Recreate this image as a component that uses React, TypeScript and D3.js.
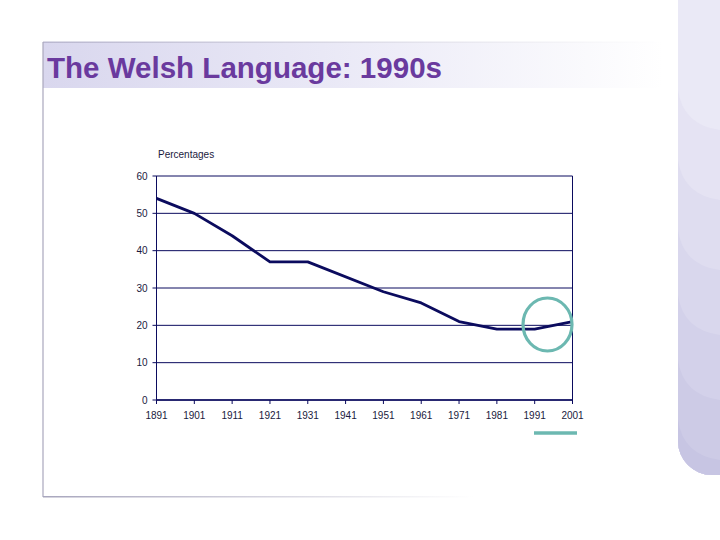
import React from "react";
import * as d3 from "d3";

const years = [1891, 1901, 1911, 1921, 1931, 1951, 1961, 1971, 1981, 1991, 2001];
const percentages = [54, 50, 44, 37, 37, 29, 26, 21, 19, 19, 21];
const xTicks = [1891, 1901, 1911, 1921, 1931, 1941, 1951, 1961, 1971, 1981, 1991, 2001];
const yTicks = [0, 10, 20, 30, 40, 50, 60];
const title = "The Welsh Language: 1990s";
const yLabel = "Percentages";

export default function App() {
  const W = 720, H = 540;
  const x = d3.scaleLinear().domain([1891, 2001]).range([156.5, 572.5]);
  const y = d3.scaleLinear().domain([0, 60]).range([400, 176]);
  const line = d3.line<number>().x((_, i) => x(years[i])).y((d) => y(d));
  const navy = "#0b0b5e";
  const bandColors = ["#eae9f6", "#e5e3f3", "#dfddf0", "#d9d7ed", "#d3d1ea", "#cdcbe6", "#c7c5e3"];
  const bandTops = [0, 90, 160, 230, 295, 360, 420];
  const panelX = 678, panelBottom = 475, r = 34;
  return (
    <svg width={W} height={H} style={{ position: "absolute", left: 0, top: 0, background: "#fff" }}>
      <defs>
        <linearGradient id="titleGrad" x1="0" x2="1" y1="0" y2="0">
          <stop offset="0" stopColor="#d9d7ee" />
          <stop offset="0.45" stopColor="#e9e8f6" />
          <stop offset="1" stopColor="#ffffff" />
        </linearGradient>
        <linearGradient id="topLine" x1="0" x2="1">
          <stop offset="0" stopColor="#b9b7d0" />
          <stop offset="1" stopColor="#ffffff" />
        </linearGradient>
        <linearGradient id="botLine" x1="0" x2="1">
          <stop offset="0" stopColor="#a8a6bd" />
          <stop offset="1" stopColor="#ffffff" />
        </linearGradient>
        <clipPath id="panelClip">
          <path d={`M${panelX},0 H${W} V${panelBottom} H${panelX + r} A${r},${r} 0 0 1 ${panelX},${panelBottom - r} Z`} />
        </clipPath>
      </defs>

      {/* right decorative panel */}
      <g clipPath="url(#panelClip)">
        <rect x={panelX} y={0} width={W - panelX} height={panelBottom} fill={bandColors[0]} />
        {bandTops.slice(1).map((t, i) => (
          <path
            key={i}
            d={`M${panelX},${t} Q${panelX + 5},${t + 35} ${W},${t + 40} V${panelBottom} H${panelX} Z`}
            fill={bandColors[i + 1]}
          />
        ))}
      </g>

      {/* title band and frame */}
      <rect x={43} y={42} width={620} height={46} fill="url(#titleGrad)" />
      <rect x={43} y={41.5} width={620} height={1.5} fill="url(#topLine)" />
      <line x1={43} x2={43} y1={42} y2={497} stroke="#a9a7bd" strokeWidth={1.2} />
      <rect x={43} y={496} width={430} height={1.5} fill="url(#botLine)" />
      <text x={47} y={78} fontFamily="Liberation Sans, Arial, sans-serif" fontWeight="bold" fontSize={29.5} fill="#6a3a9e" textLength={395} lengthAdjust="spacingAndGlyphs">
        {title}
      </text>

      {/* chart */}
      <text x={158} y={158} fontFamily="Liberation Sans, Arial, sans-serif" fontSize={10} fill="#1a1a40">{yLabel}</text>
      {yTicks.map((t) => (
        <g key={t}>
          <line x1={x(1891) - 4} x2={x(2001)} y1={y(t)} y2={y(t)} stroke={navy} strokeWidth={1} />
          <text x={x(1891) - 9} y={y(t) + 3.5} textAnchor="end" fontFamily="Liberation Sans, Arial, sans-serif" fontSize={10} fill="#1a1a40">{t}</text>
        </g>
      ))}
      <line x1={x(1891)} x2={x(1891)} y1={y(60)} y2={y(0)} stroke={navy} strokeWidth={1} />
      <line x1={x(2001)} x2={x(2001)} y1={y(60)} y2={y(0)} stroke={navy} strokeWidth={1} />
      <line x1={x(1891)} x2={x(2001)} y1={y(0)} y2={y(0)} stroke={navy} strokeWidth={1.5} />
      {xTicks.map((t) => (
        <g key={t}>
          <line x1={x(t)} x2={x(t)} y1={y(0)} y2={y(0) + 4} stroke={navy} strokeWidth={1} />
          <text x={x(t)} y={y(0) + 19} textAnchor="middle" fontFamily="Liberation Sans, Arial, sans-serif" fontSize={10} fill="#1a1a40">{t}</text>
        </g>
      ))}
      <path d={line(percentages) || ""} fill="none" stroke={navy} strokeWidth={2.8} strokeLinejoin="round" />

      {/* highlight */}
      <ellipse cx={547.5} cy={324.5} rx={24.5} ry={26.5} fill="none" stroke="#6cb8b1" strokeWidth={3.2} />
      <line x1={534} x2={577} y1={433} y2={433} stroke="#6cb8b1" strokeWidth={3.5} />
    </svg>
  );
}
